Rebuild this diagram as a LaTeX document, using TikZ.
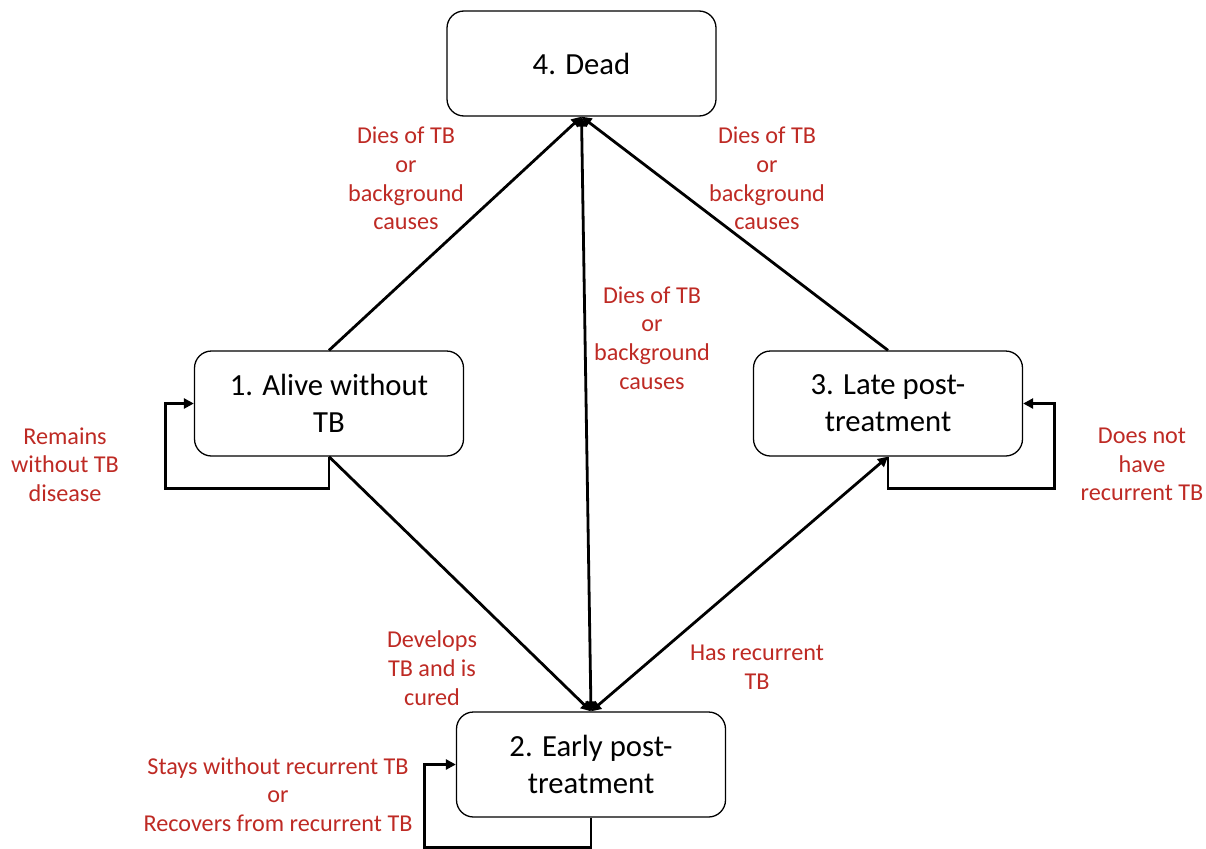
\documentclass[tikz,border=0pt]{standalone}
\usepackage{fontspec}
\setmainfont{Carlito}
\usetikzlibrary{arrows.meta}
\definecolor{lblred}{RGB}{190,42,36}
\tikzset{
  statebox/.style={draw=black, line width=1.3pt, rounded corners=17pt, minimum width=269pt, minimum height=105pt, align=center, font=\fontsize{30.7}{37}\selectfont, inner sep=0pt},
  lbl/.style={text=lblred, align=center, font=\fontsize{24.2}{28.7}\selectfont, inner sep=0pt},
  conn/.style={line width=2.8pt, -{Triangle[length=10pt,width=10pt]}},
  bconn/.style={line width=2.8pt, {Triangle[length=10pt,width=10pt]}-{Triangle[length=10pt,width=10pt]}},
}
\begin{document}
\begin{tikzpicture}[x=1pt,y=-1pt]
\useasboundingbox (0,0) rectangle (1206,848);
\node[statebox] (dead) at (581.5,63.5) {4. Dead};
\node[statebox] (alive) at (329,403.5) {1. Alive without\\TB};
\node[statebox] (late) at (888,403.5) {3. Late post-\\treatment};
\node[statebox] (early) at (591,764.5) {2. Early post-\\treatment};

\draw[conn] (alive.north) -- (dead.south);
\draw[conn] (late.north) -- (dead.south);
\draw[bconn] (early.north) -- (dead.south);
\draw[conn] (alive.south) -- (early.north);
\draw[bconn] (early.north) -- (late.south);

\draw[conn] (alive.south) -- ++(0,32) -| ([xshift=-28pt]alive.west) -- (alive.west);
\draw[conn] (late.south) -- ++(0,32) -| ([xshift=31pt]late.east) -- (late.east);
\draw[conn] (early.south) -- ++(0,29.5) -| ([xshift=-31pt]early.west) -- (early.west);

\node[lbl] (l1) at (406,178.5) {Dies of TB\\or\\background\\causes};
\node[lbl] (l2) at (767,178.5) {Dies of TB\\or\\background\\causes};
\node[lbl] (l3) at (652,338) {Dies of TB\\or\\background\\causes};
\node[lbl] (l4) at (65,464.5) {Remains\\without TB\\disease};
\node[lbl] (l5) at (1142,464.5) {Does not\\have\\recurrent TB};
\node[lbl] (l6) at (432,668) {Develops\\TB and is\\cured};
\node[lbl] (l7) at (757,667) {Has recurrent\\TB};
\node[lbl] (l8) at (278,794.5) {Stays without recurrent TB\\or\\Recovers from recurrent TB};
\end{tikzpicture}
\end{document}
